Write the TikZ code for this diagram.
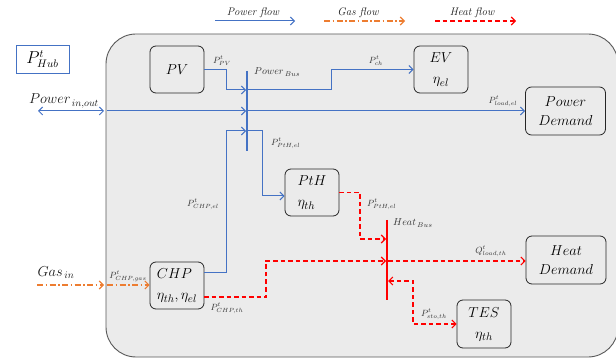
\documentclass[tikz,border=0pt]{standalone}
\usetikzlibrary{arrows.meta,calc}
\definecolor{pblue}{HTML}{4472C4}
\definecolor{gorange}{HTML}{ED7D31}
\definecolor{hred}{HTML}{FF0000}
\definecolor{bgray}{HTML}{EBEBEB}
\begin{document}
\begin{tikzpicture}[x=1pt,y=-1pt,
  tip/.style={-{Straight Barb[length=4pt,width=8pt]}},
  twotip/.style={{Straight Barb[length=4pt,width=8pt]}-{Straight Barb[length=4pt,width=8pt]}},
  pflow/.style={draw=pblue, line width=1pt},
  gflow/.style={draw=gorange, line width=1.1pt, dash pattern=on 6pt off 2.5pt on 1.5pt off 2.5pt},
  hflow/.style={draw=hred, line width=1.1pt, dash pattern=on 4.5pt off 3pt},
  box/.style={draw=black!85, rounded corners=6pt, fill=bgray, line width=0.8pt, inner sep=0pt,
              minimum width=54pt, minimum height=47pt, font=\fontsize{15}{19}\selectfont},
  lbl/.style={font=\fontsize{9}{10}\selectfont, inner sep=0pt, text=black!80},
  big/.style={font=\fontsize{14}{16}\selectfont, inner sep=0pt, text=black!90},
  leg/.style={font=\fontsize{11}{13}\selectfont\itshape, inner sep=0pt, text=black!90}]
\useasboundingbox (0,0) rectangle (616,358);

% legend
\node[leg] (lp) at (253,13) {Power flow};
\node[leg] (lg) at (358,13) {Gas flow};
\node[leg] (lh) at (472,13) {Heat flow};
\coordinate (lp1) at (215,21); \coordinate (lp2) at (295,21);
\coordinate (lg1) at (324,21); \coordinate (lg2) at (405,21);
\coordinate (lh1) at (435,21); \coordinate (lh2) at (516,21);
\draw[pflow,tip] (lp1) -- (lp2);
\draw[gflow,tip] (lg1) -- (lg2);
\draw[hflow,tip] (lh1) -- (lh2);

% hub label
\node[draw=pblue, line width=0.7pt, minimum width=53pt, minimum height=28pt, inner sep=0pt,
      font=\fontsize{16}{18}\selectfont] (hub) at (42.5,59) {$P^{t}_{Hub}$};

% main area
\draw[fill=bgray, draw=black!65, line width=0.9pt, rounded corners=30pt] (106,34) rectangle (618,357);

% boxes
\node[box] (pv) at (177,69.5) {$PV$};
\node[box, align=center] (ev) at (441,69.5) {$EV$\\[2pt]$\eta_{el}$};
\node[box, align=center, minimum width=80pt, minimum height=48pt] (pd) at (565.5,111) {$Power$\\$Demand$};
\node[box, align=left] (pth) at (312,192.5) {$PtH$\\[2pt]$\eta_{th}$};
\node[box, align=left] (chp) at (177,285.5) {$CHP$\\[2pt]$\eta_{th},\eta_{el}$};
\node[box, align=center, minimum width=80pt, minimum height=48pt] (hd) at (566,260) {$Heat$\\$Demand$};
\node[box, align=center, minimum height=48pt] (tes) at (484,324) {$TES$\\[2pt]$\eta_{th}$};

% power bus
\coordinate (pbt) at (247,71); \coordinate (pbb) at (247,151);
\draw[pblue, line width=2.8pt] (pbt) -- (pbb);
\coordinate (pb1) at (246,90); \coordinate (pb2) at (246,111); \coordinate (pb3) at (246,131);
\coordinate (pbo1) at (248,90); \coordinate (pbo3) at (248,131);
\coordinate (pvj) at (226,90);
\coordinate (evj) at (331,90);
\coordinate (pin1) at (38,111); \coordinate (pin2) at (104,111); \coordinate (pin3) at (107,111);
\coordinate (chpo) at (204,273); \coordinate (chpj) at (226,131);
\coordinate (pthj) at (262,131);

\draw[pflow,tip] (pv.east) -| (pvj) -- (pb1);
\draw[pflow,tip] (pbo1) -- (evj) |- (ev.west);
\draw[pflow,twotip] (pin1) -- (pin2);
\draw[pflow,tip] (pin3) -- (pb2);
\draw[pflow,tip] (pb2) -- (pd.west |- pb2);
\draw[pflow,tip] (chpo) -| (chpj) -- (pb3);
\draw[pflow,tip] (pbo3) -- (pthj) |- ($(pth.west)+(0,3.5)$);

% heat bus
\coordinate (hbt) at (387,220); \coordinate (hbb) at (387,300);
\draw[hred, line width=2.8pt] (hbt) -- (hbb);
\coordinate (hb1) at (386,239); \coordinate (hb2) at (386,261); \coordinate (hb3) at (388,281);
\coordinate (hbo2) at (388,261);
\coordinate (pthh) at (360,239);
\coordinate (chph) at (204,297); \coordinate (chphj) at (266,297);
\coordinate (tesj) at (413,281);

\draw[hflow,tip] (pth.east) -| (pthh) -- (hb1);
\draw[hflow,tip] (chph) -- (chphj) |- (hb2);
\draw[hflow,tip] (hbo2) -- (hd.west |- hbo2);
\draw[hflow,twotip] (hb3) -- (tesj) |- (tes.west);

% gas
\coordinate (g1) at (37,285); \coordinate (g2) at (104,285); \coordinate (g3) at (107,285);
\draw[gflow,tip] (g1) -- (g2);
\draw[gflow,tip] (g3) -- (chp.west |- g3);

% labels
\node[big] (lpin) at (64,101) {$Power_{\,in,out}$};
\node[big] (lgas) at (56,273) {$Gas_{\,in}$};
\node[lbl] (l1) at (222,61) {$P^{t}_{PV}$};
\node[lbl, anchor=west, font=\fontsize{10}{12}\selectfont] (l2) at (254,72) {$Power_{\,Bus}$};
\node[lbl] (l3) at (376,61) {$P^{t}_{ch}$};
\node[lbl] (l4) at (503,101) {$P^{t}_{load,el}$};
\node[lbl, anchor=west] (l5) at (271,143) {$P^{t}_{PtH,el}$};
\node[lbl] (l6) at (203,204) {$P^{t}_{CHP,el}$};
\node[lbl, anchor=west] (l7) at (367,204) {$P^{t}_{PtH,el}$};
\node[lbl, anchor=west, font=\fontsize{10}{12}\selectfont] (l8) at (393,223) {$Heat_{\,Bus}$};
\node[lbl] (l9) at (491,251) {$Q^{t}_{load,th}$};
\node[lbl] (l10) at (434,314) {$P^{t}_{sto,th}$};
\node[lbl] (l11) at (227,308) {$P^{t}_{CHP,th}$};
\node[lbl] (l12) at (128,276) {$P^{t}_{CHP,gas}$};
\end{tikzpicture}
\end{document}
